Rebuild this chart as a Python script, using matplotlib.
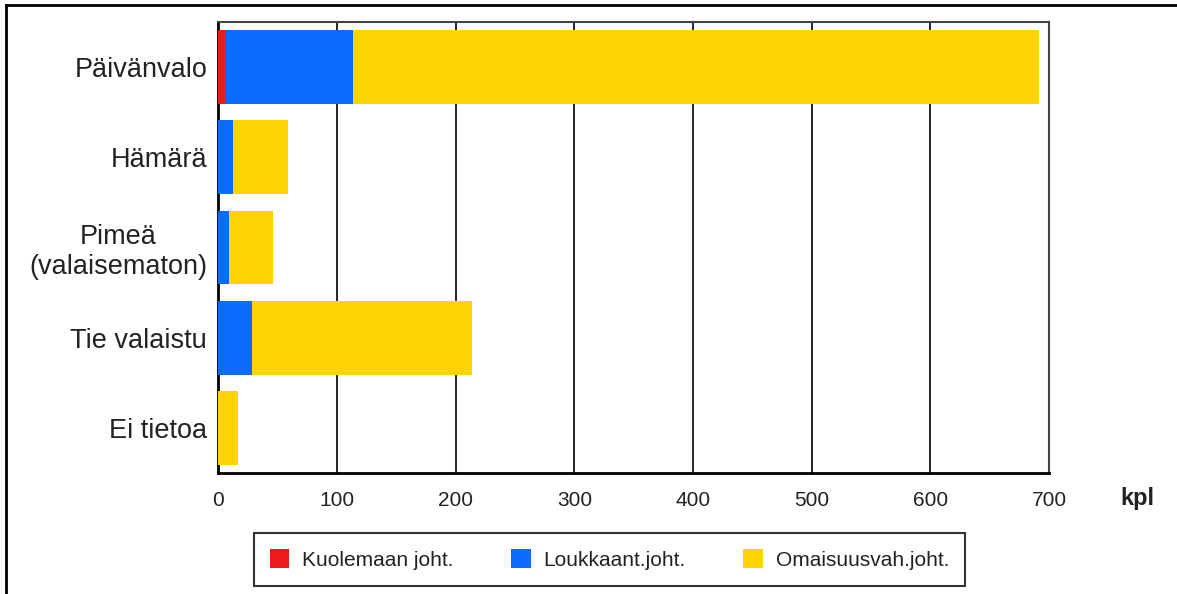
import matplotlib
matplotlib.use("Agg")
import matplotlib.pyplot as plt
from matplotlib.lines import Line2D
from matplotlib.patches import Patch
import numpy as np

categories = ["Päivänvalo", "Hämärä", "Pimeä\n(valaisematon)", "Tie valaistu", "Ei tietoa"]
fatal = [6.5, 0, 0, 0, 0]
injury = [107, 12, 9, 28.5, 0]
property_damage = [578, 47, 37.5, 185.5, 17]
series_labels = ["Kuolemaan joht.", "Loukkaant.joht.", "Omaisuusvah.joht."]
xticks = [0, 100, 200, 300, 400, 500, 600, 700]

red = "#ec1c1c"
blue = "#0a6cff"
yellow = "#ffd400"
font = "Liberation Sans"
text_color = "#222222"

W, H = 1177, 594
fig = plt.figure(figsize=(W / 100, H / 100), dpi=100)
fig.patch.set_facecolor("white")
ax = fig.add_axes([218.3 / W, 1 - 472.7 / H, (1049 - 218.3) / W, (472.7 - 22.3) / H])

y = np.arange(len(categories))
fatal = np.array(fatal)
injury = np.array(injury)
property_damage = np.array(property_damage)
h = 0.82
ax.barh(y, fatal, height=h, color=red, zorder=3)
ax.barh(y, injury, left=fatal, height=h, color=blue, zorder=3)
ax.barh(y, property_damage, left=fatal + injury, height=h, color=yellow, zorder=3)

ax.set_xlim(0, 700)
ax.set_ylim(len(categories) - 0.5, -0.5)
ax.set_xticks(xticks)
ax.set_xticklabels([str(t) for t in xticks], family=font, fontsize=15, color=text_color)
ax.set_yticks(y)
ax.set_yticklabels(categories, family=font, fontsize=19.5, color=text_color,
                   linespacing=1.2, ha="right", multialignment="center")
ax.tick_params(axis="y", length=0, pad=8)
ax.tick_params(axis="x", length=0, pad=13)
ax.grid(axis="x", color="black", linewidth=1.2, zorder=1)
ax.set_axisbelow(True)

for side in ["left", "bottom"]:
    ax.spines[side].set_color("black")
    ax.spines[side].set_linewidth(2)
for side in ["top", "right"]:
    ax.spines[side].set_color("#444444")
    ax.spines[side].set_linewidth(1.5)

fig.text(1137 / W, 1 - 498 / H, "kpl", family=font, fontweight="bold",
         fontsize=17, ha="center", va="center", color=text_color)

handles = [Patch(facecolor=c, edgecolor="none") for c in (red, blue, yellow)]
leg = fig.legend(handles, series_labels, loc="center", bbox_to_anchor=(609.5 / W, 1 - 559.5 / H),
                 ncol=3, frameon=True, fancybox=False, handlelength=0.95, handleheight=1.05,
                 handletextpad=0.62, columnspacing=2.75, borderpad=0.75, borderaxespad=0,
                 prop={"family": font, "size": 15})
leg.get_frame().set_edgecolor("black")
leg.get_frame().set_linewidth(1.5)
for t in leg.get_texts():
    t.set_color(text_color)

# outer frame of the picture (left and top edges visible)
fig.add_artist(Line2D([6 / W, 6 / W], [0, 1 - 5 / H], color="black", lw=2, transform=fig.transFigure))
fig.add_artist(Line2D([6 / W, 1], [1 - 5 / H, 1 - 5 / H], color="black", lw=2, transform=fig.transFigure))

fig.savefig("out.png", dpi=100)
